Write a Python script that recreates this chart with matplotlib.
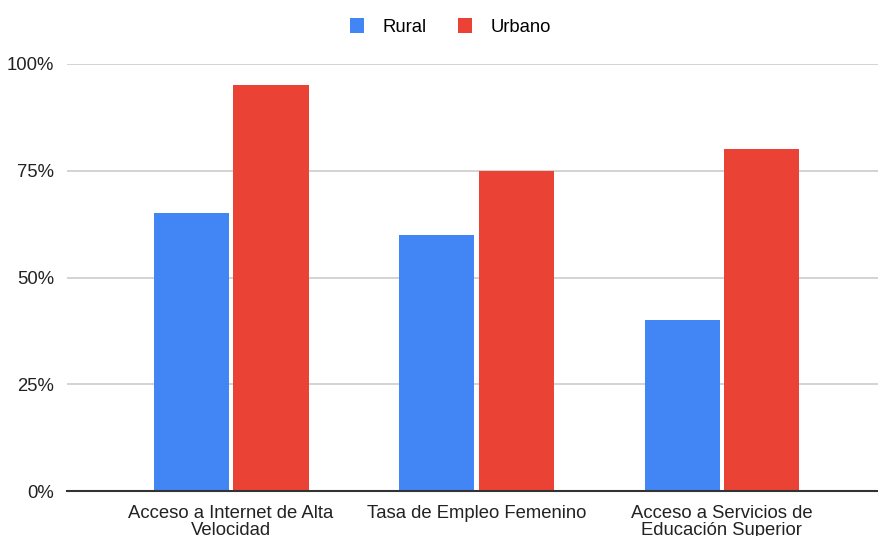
import numpy as np
import matplotlib.pyplot as plt

plt.rcParams['font.family'] = ['Liberation Sans', 'DejaVu Sans']

categories = ['Acceso a Internet de Alta\nVelocidad', 'Tasa de Empleo Femenino',
              'Acceso a Servicios de\nEducación Superior']
rural = [65, 60, 40]
urbano = [95, 75, 80]
yticks = [0, 25, 50, 75, 100]
ytick_labels = ['0%', '25%', '50%', '75%', '100%']

blue = '#4285F4'
red = '#EA4335'

fig = plt.figure(figsize=(8.79, 5.36), dpi=100)
ax = fig.add_axes([67 / 879, 45 / 536, 812 / 879, 427 / 536])

x = np.arange(len(categories))
w = 0.306
b1 = ax.bar(x - 0.161, rural, w, color=blue, label='Rural', zorder=3)
b2 = ax.bar(x + 0.163, urbano, w, color=red, label='Urbano', zorder=3)

ax.set_xlim(-0.668, 2.64)
ax.set_ylim(0, 100)
ax.set_yticks(yticks)
ax.set_yticklabels(ytick_labels, fontsize=13.3, color='#222222')
ax.set_xticks(x)
ax.set_xticklabels(categories, fontsize=13.3, color='#222222', linespacing=1.0)
ax.tick_params(axis='y', length=0, pad=9)
ax.tick_params(axis='x', length=0, pad=10)

ax.grid(axis='y', color='#cccccc', linewidth=1.2, zorder=0)
for s in ['top', 'right', 'left']:
    ax.spines[s].set_visible(False)
ax.spines['bottom'].set_color('#333333')
ax.spines['bottom'].set_linewidth(1.5)
ax.spines['bottom'].set_zorder(4)

fig.legend(handles=[b1, b2], loc='center', bbox_to_anchor=(0.5 + 11 / 879, 1 - 27 / 536),
           ncol=2, frameon=False, fontsize=13.3, handlelength=0.75, handleheight=0.9,
           columnspacing=1.7, handletextpad=1.0)

fig.savefig('out.png', dpi=100)
